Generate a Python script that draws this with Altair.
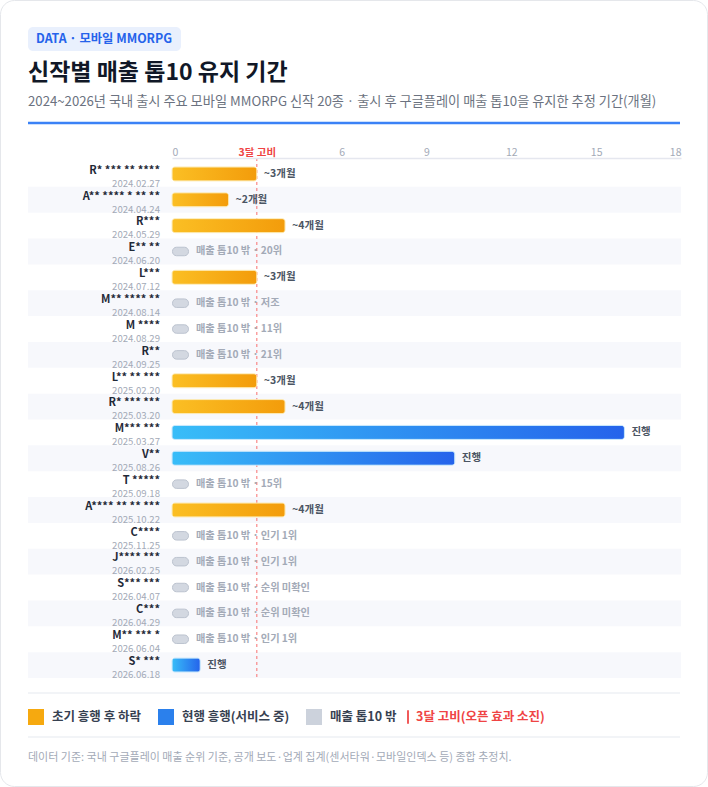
import altair as alt
import pandas as pd

names = ["R* *** ** ****", "A** **** * ** **", "R***", "E** **", "L***", "M** **** **",
         "M ****", "R**", "L** ** ***", "R* *** ***", "M*** ***", "V**", "T *****",
         "A**** ** ** ***", "C****", "J**** ***", "S*** ***", "C***", "M** *** *", "S* ***"]
dates = ["2024.02.27", "2024.04.24", "2024.05.29", "2024.06.20", "2024.07.12", "2024.08.14",
         "2024.08.29", "2024.09.25", "2025.02.20", "2025.03.20", "2025.03.27", "2025.08.26",
         "2025.09.18", "2025.10.22", "2025.11.25", "2026.02.25", "2026.04.07", "2026.04.29",
         "2026.06.04", "2026.06.18"]
status = ["early", "early", "early", "out", "early", "out", "out", "out", "early", "early",
          "current", "current", "out", "early", "out", "out", "out", "out", "out", "current"]
months = [3, 2, 4, None, 3, None, None, None, 3, 4, 16, 10, None, 4, None, None, None, None, None, 1]
notes = ["~3개월", "~2개월", "~4개월", "20위", "~3개월", "저조", "11위", "21위", "~3개월", "~4개월",
         "진행", "진행", "15위", "~4개월", "인기 1위", "인기 1위", "순위 미확인", "순위 미확인", "인기 1위", "진행"]

threshold = [3]
x_ticks = [0, 3, 6, 9, 12, 15, 18]
legend_items = ["초기 흥행 후 하락", "현행 흥행(서비스 중)", "매출 톱10 밖"]
legend_colors = ["#f6a90f", "#2b80ec", "#ccd2dc"]
threshold_item = ["3달 고비(오픈 효과 소진)"]

FONT = "Noto Sans CJK KR"
W, H = 509, 517

df = pd.DataFrame({"idx": list(range(len(names))), "name": names, "date": dates,
                   "status": status, "months": months, "note": notes})
df["zebra"] = df["idx"] % 2 == 1
df["outtext"] = "매출 톱10 밖 · " + df["note"]

base = alt.Chart(df)
yenc = alt.Y("idx:O", axis=None, scale=alt.Scale(paddingInner=0, paddingOuter=0))
xscale = alt.Scale(domain=[0, 18], nice=False, zero=True)
xaxis = alt.Axis(orient="top", values=x_ticks, title=None, grid=False, ticks=False, zindex=2,
                 domainColor="#e5e7ef", domainWidth=1.5, offset=3, labelPadding=1,
                 labelFont=FONT, labelFontSize=10.5,
                 labelExpr="datum.value == 3 ? '3달 고비' : datum.label",
                 labelColor={"condition": {"test": "datum.value == 3", "value": "#ef4444"},
                             "value": "#a3aab7"},
                 labelFontWeight={"condition": {"test": "datum.value == 3", "value": "bold"},
                                  "value": "normal"})
xenc = alt.X("months:Q", scale=xscale, axis=xaxis)

one = alt.Chart(pd.DataFrame({"a": [0]}))

card = one.mark_rect(fill="white", stroke="#e5e7eb", strokeWidth=1, cornerRadius=14).encode(
    x=alt.value(-171.5), x2=alt.value(535.5), y=alt.value(-160.5), y2=alt.value(625.5))

zebra = base.transform_filter("datum.zebra").mark_rect(fill="#f7f8fc").encode(
    y=yenc, x=alt.value(-144), x2=alt.value(W))

orange_grad = alt.Gradient(gradient="linear", x1=0, x2=1, y1=0, y2=0,
                           stops=[alt.GradientStop(color="#fbbf24", offset=0),
                                  alt.GradientStop(color="#f39c0b", offset=1)])
blue_grad = alt.Gradient(gradient="linear", x1=0, x2=1, y1=0, y2=0,
                         stops=[alt.GradientStop(color="#38bdf8", offset=0),
                                alt.GradientStop(color="#2563eb", offset=1)])

rule3 = alt.Chart(pd.DataFrame({"months": threshold})).mark_rule(
    color="#f87171", strokeDash=[3, 3], strokeWidth=1).encode(
    x=xenc, y=alt.value(-3), y2=alt.value(H + 2))

early = base.transform_filter("datum.status == 'early'").mark_bar(
    color=orange_grad, cornerRadius=3, size=14, stroke="#fde7a8", strokeWidth=0.8).encode(
    y=yenc, x=xenc)
current = base.transform_filter("datum.status == 'current'").mark_bar(
    color=blue_grad, cornerRadius=3, size=14, stroke="#bfe3fb", strokeWidth=0.8).encode(
    y=yenc, x=xenc)
out_pill = base.transform_filter("datum.status == 'out'").mark_bar(
    fill="#d3d8e1", stroke="#bcc3cf", strokeWidth=1, cornerRadius=4, size=8.5).encode(
    y=yenc, x=alt.value(0.5), x2=alt.value(16.5))

val_text = base.transform_filter("datum.status != 'out'").mark_text(
    align="left", baseline="middle", dx=7, font=FONT, fontSize=10.5, fontWeight="bold",
    color="#4b5563").encode(y=yenc, x=xenc, text="note:N")
out_text = base.transform_filter("datum.status == 'out'").mark_text(
    align="left", baseline="middle", font=FONT, fontSize=10.2, fontWeight="bold",
    color="#a3aab7").encode(y=yenc, x=alt.value(24), text="outtext:N")

name_text = base.mark_text(align="right", baseline="middle", dy=-3.2, font=FONT, fontSize=11,
                           fontWeight="bold", color="#1f2937").encode(
    y=yenc, x=alt.value(-12), text="name:N")
date_text = base.mark_text(align="right", baseline="middle", dy=9.8, font=FONT, fontSize=9.6,
                           color="#a3aab7").encode(
    y=yenc, x=alt.value(-12), text="date:N")

badge = one.mark_rect(fill="#e9f0fd", cornerRadius=5).encode(
    x=alt.value(-144), x2=alt.value(9), y=alt.value(-134), y2=alt.value(-110))
badge_t = one.mark_text(align="left", baseline="middle", font=FONT, fontSize=12.3, fontWeight="bold",
                        color="#2563eb").encode(
    x=alt.value(-136), y=alt.value(-122), text=alt.value("DATA · 모바일 MMORPG"))
title_t = one.mark_text(align="left", baseline="middle", font=FONT, fontSize=23, fontWeight="bold",
                        color="#111827").encode(
    x=alt.value(-144), y=alt.value(-88), text=alt.value("신작별 매출 톱10 유지 기간"))
sub_t = one.mark_text(align="left", baseline="middle", font=FONT, fontSize=13.2,
                      color="#6b7280").encode(
    x=alt.value(-144), y=alt.value(-59),
    text=alt.value("2024~2026년 국내 출시 주요 모바일 MMORPG 신작 20종 · 출시 후 구글플레이 매출 톱10을 유지한 추정 기간(개월)"))
blue_line = one.mark_rule(color="#3b82f6", strokeWidth=2.5).encode(
    x=alt.value(-144), x2=alt.value(508), y=alt.value(-38))
sep1 = one.mark_rule(color="#eef0f5", strokeWidth=1.5).encode(
    x=alt.value(-144), x2=alt.value(508), y=alt.value(532))
sep2 = one.mark_rule(color="#eef0f5", strokeWidth=1.5).encode(
    x=alt.value(-144), x2=alt.value(508), y=alt.value(576))
footer = one.mark_text(align="left", baseline="middle", font=FONT, fontSize=11,
                       color="#a3aab7").encode(
    x=alt.value(-144), y=alt.value(597),
    text=alt.value("데이터 기준: 국내 구글플레이 매출 순위 기준, 공개 보도·업계 집계(센서타워·모바일인덱스 등) 종합 추정치."))

leg_df = pd.DataFrame({"item": legend_items})
legend_layer = alt.Chart(leg_df).transform_filter("false").mark_square(filled=True, opacity=1).encode(
    color=alt.Color("item:N", scale=alt.Scale(domain=legend_items, range=legend_colors),
                    legend=alt.Legend(orient="none", legendX=-144, legendY=548, direction="horizontal",
                                      title=None, symbolType="square", symbolSize=256,
                                      labelFont=FONT, labelFontSize=12.5, labelFontWeight="bold",
                                      labelColor="#374151", labelOffset=8, columnPadding=16,
                                      symbolStrokeWidth=0, symbolOpacity=1)),
    x=alt.value(0), y=alt.value(0))

thr_df = pd.DataFrame({"item2": threshold_item})
thr_legend_layer = alt.Chart(thr_df).transform_filter("false").mark_square(
    filled=True, color="#ef4444").encode(
    opacity=alt.Opacity("item2:O", scale=alt.Scale(domain=threshold_item, range=[1]),
                        legend=alt.Legend(orient="none", legendX=228, legendY=548, title=None,
                                          symbolType="M-0.11,-0.85H0.11V0.85H-0.11Z", symbolSize=256,
                                          symbolFillColor="#ef4444", symbolStrokeColor="#ef4444",
                                          symbolStrokeWidth=0,
                                          labelFont=FONT, labelFontSize=12.5, labelFontWeight="bold",
                                          labelColor="#ef4444", labelOffset=0)),
    x=alt.value(0), y=alt.value(0))

chart = alt.layer(
    card, zebra, rule3, early, current, out_pill, val_text, out_text, name_text, date_text,
    badge, badge_t, title_t, sub_t, blue_line, sep1, sep2, footer, legend_layer, thr_legend_layer
).properties(
    width=W, height=H,
    autosize=alt.AutoSizeParams(type="none"),
    padding={"left": 172, "top": 161, "right": 27, "bottom": 109},
    background="white",
).configure_view(stroke=None)

chart.save("out.html", embed_options={"renderer": "svg", "actions": False})
